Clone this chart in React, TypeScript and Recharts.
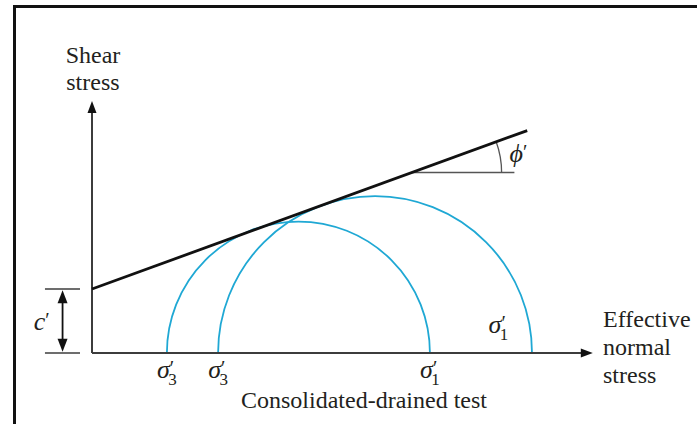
import { ComposedChart, Line, XAxis, YAxis, ReferenceLine, ReferenceArea, ReferenceDot } from 'recharts';

// effective-stress failure envelope: tau = c' + sigma * tan(phi')
const cohesion = 20;
const envelopeSigma = [0, 136];
const envelopeTau = [20, 69.5];

// consolidated-drained test results (Mohr circles)
const sigma3 = [23.4, 39.4];
const sigma1 = [105.6, 137.5];

// friction-angle construction on the envelope
const phiSigma = [100, 132];
const phiTau = 56.4;
const phiArcTop = 66;
const phiArcRadius = 28;

const xDomain = [-24, 156.5];
const yDomain = [0, 78.75];

const CYAN = '#1fa8d4';
const AXIS = '#3c3c3c';
const INK = '#231f20';
const FONT = 'Liberation Serif';

const envelopeData = envelopeSigma.map((s, i) => ({ sigma: s, tau: envelopeTau[i] }));

const SemiCircle = (props: any) => {
  const { x, y, width, height } = props;
  const base = y + height;
  return (
    <path
      d={`M${x},${base} A${width / 2},${height} 0 0 1 ${x + width},${base}`}
      fill="none"
      stroke={CYAN}
      strokeWidth={1.8}
    />
  );
};

// arc from the horizontal run up to the envelope
const AngleArc = (props: any) => {
  const { x, y, width, height } = props;
  const endX = x + Math.sqrt(Math.max(width * width - height * height, 0));
  return (
    <path
      d={`M${x + width},${y + height} A${width},${width} 0 0 0 ${endX},${y}`}
      fill="none"
      stroke="#555"
      strokeWidth={1.3}
    />
  );
};

const arrowHead = (dir: 'up' | 'down' | 'right', len = 12, half = 4.5) => (props: any) => {
  const { cx, cy } = props;
  let pts = '';
  if (dir === 'up') pts = `${cx},${cy} ${cx - half},${cy + len} ${cx + half},${cy + len}`;
  if (dir === 'down') pts = `${cx},${cy} ${cx - half},${cy - len} ${cx + half},${cy - len}`;
  if (dir === 'right') pts = `${cx},${cy} ${cx - len},${cy - half} ${cx - len},${cy + half}`;
  return <polygon points={pts} fill="#111" />;
};

const textLines = (lines: string[], anchor: 'start' | 'middle' | 'end' = 'start', lineHeight = 28) => (props: any) => (
  <text x={props.cx} y={props.cy} textAnchor={anchor} fontFamily={FONT} fontSize={24} fill={INK}>
    {lines.map((l, i) => (
      <tspan key={l} x={props.cx} dy={i === 0 ? 0 : lineHeight}>
        {l}
      </tspan>
    ))}
  </text>
);

const sigmaLabel = (sub: string) => (props: any) => (
  <text x={props.cx} y={props.cy} textAnchor="middle" fontFamily={FONT} fontSize={26} fill={INK}>
    <tspan fontStyle="italic">σ</tspan>
    <tspan fontSize={20} dy={-3}>′</tspan>
    <tspan fontSize={17} dx={-6} dy={10}>{sub}</tspan>
  </text>
);

const primeLabel = (sym: string) => (props: any) => (
  <text x={props.cx} y={props.cy} textAnchor="start" fontFamily={FONT} fontSize={26} fill={INK}>
    <tspan fontStyle="italic">{sym}</tspan>
    <tspan fontSize={20} dy={-3}>′</tspan>
  </text>
);

export default function App() {
  return (
    <div style={{ position: 'absolute', left: 0, top: 0, width: 697, height: 424, overflow: 'hidden', background: '#fff' }}>
      <div
        style={{
          position: 'absolute',
          left: 13,
          top: 5,
          width: 700,
          height: 430,
          border: '3px solid #111',
          boxSizing: 'border-box',
        }}
      />
      <div style={{ position: 'absolute', left: 0, top: 0 }}>
        <ComposedChart
          width={697}
          height={424}
          data={envelopeData}
          margin={{ top: 101, right: 104.2, bottom: 71, left: 15.2 }}
        >
          <XAxis dataKey="sigma" type="number" domain={xDomain} allowDataOverflow hide />
          <YAxis type="number" domain={yDomain} allowDataOverflow hide />

          {/* axes */}
          <ReferenceLine segment={[{ x: 0, y: 0 }, { x: 0, y: yDomain[1] - 2.5 }]} stroke={AXIS} strokeWidth={2} ifOverflow="visible" />
          <ReferenceLine segment={[{ x: 0, y: 0 }, { x: xDomain[1] - 2.5, y: 0 }]} stroke={AXIS} strokeWidth={2} ifOverflow="visible" />
          <ReferenceDot x={0} y={yDomain[1]} r={0} ifOverflow="visible" shape={arrowHead('up')} />
          <ReferenceDot x={xDomain[1]} y={0} r={0} ifOverflow="visible" shape={arrowHead('right')} />

          {/* cohesion intercept dimension */}
          <ReferenceLine segment={[{ x: -14.7, y: cohesion }, { x: -3.75, y: cohesion }]} stroke={AXIS} strokeWidth={1.6} ifOverflow="visible" />
          <ReferenceLine segment={[{ x: -14.7, y: 0 }, { x: -3.75, y: 0 }]} stroke={AXIS} strokeWidth={1.6} ifOverflow="visible" />
          <ReferenceLine segment={[{ x: -9.2, y: 2.5 }, { x: -9.2, y: cohesion - 2.5 }]} stroke="#111" strokeWidth={1.8} ifOverflow="visible" />
          <ReferenceDot x={-9.2} y={cohesion - 0.4} r={0} ifOverflow="visible" shape={arrowHead('up', 13, 5)} />
          <ReferenceDot x={-9.2} y={0.4} r={0} ifOverflow="visible" shape={arrowHead('down', 13, 5)} />

          {/* Mohr circles */}
          {sigma3.map((s3, i) => (
            <ReferenceArea
              key={`c${i}`}
              x1={s3}
              x2={sigma1[i]}
              y1={0}
              y2={(sigma1[i] - s3) / 2}
              ifOverflow="visible"
              shape={SemiCircle}
            />
          ))}

          {/* friction angle */}
          <ReferenceLine segment={[{ x: phiSigma[0], y: phiTau }, { x: phiSigma[1], y: phiTau }]} stroke="#555" strokeWidth={1.5} ifOverflow="visible" />
          <ReferenceArea
            x1={phiSigma[0]}
            x2={phiSigma[0] + phiArcRadius}
            y1={phiTau}
            y2={phiArcTop}
            ifOverflow="visible"
            shape={AngleArc}
          />

          <Line
            dataKey="tau"
            type="linear"
            stroke="#111"
            strokeWidth={2.8}
            dot={false}
            activeDot={false}
            isAnimationActive={false}
          />

          {/* labels */}
          <ReferenceDot x={0.3} y={90.6} r={0} ifOverflow="visible" shape={textLines(['Shear', 'stress'], 'middle', 27)} />
          <ReferenceDot x={159.7} y={8.1} r={0} ifOverflow="visible" shape={textLines(['Effective', 'normal', 'stress'], 'start', 28)} />
          <ReferenceDot x={85} y={-17.2} r={0} ifOverflow="visible" shape={textLines(['Consolidated-drained test'], 'middle')} />
          {sigma3.map((s3, i) => (
            <ReferenceDot key={`s3${i}`} x={s3} y={-7.8} r={0} ifOverflow="visible" shape={sigmaLabel('3')} />
          ))}
          <ReferenceDot x={sigma1[0]} y={-7.8} r={0} ifOverflow="visible" shape={sigmaLabel('1')} />
          <ReferenceDot x={127} y={6.4} r={0} ifOverflow="visible" shape={sigmaLabel('1')} />
          <ReferenceDot x={130.5} y={59.7} r={0} ifOverflow="visible" shape={primeLabel('ϕ')} />
          <ReferenceDot x={-18.2} y={7.2} r={0} ifOverflow="visible" shape={primeLabel('c')} />
        </ComposedChart>
      </div>
    </div>
  );
}
